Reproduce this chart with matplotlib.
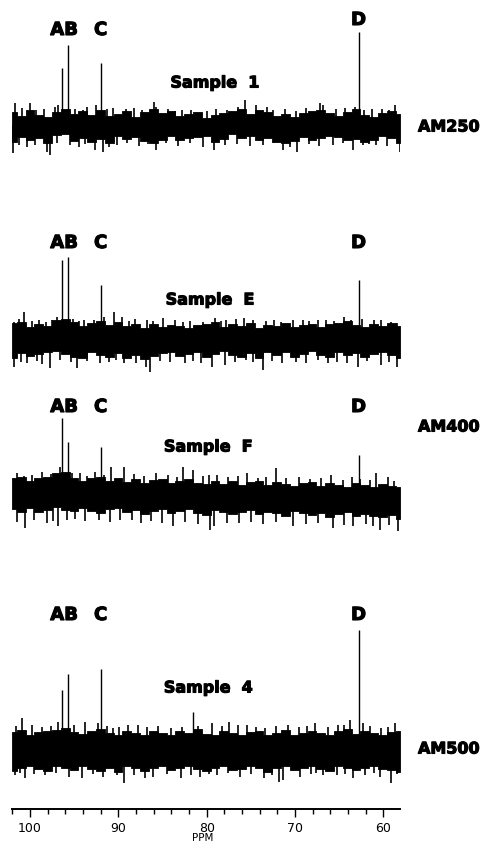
import numpy as np
import matplotlib
matplotlib.use("Agg")
import matplotlib.pyplot as plt
import matplotlib.patheffects as pe
from matplotlib.ticker import MultipleLocator

# sampling grid for the noise envelope (ppm)
grid = np.linspace(102.0, 58.1, 45)

# ---- Sample 1 (AM250) ----
s1_up = [13, 9, 15, 10, 8, 13, 16, 11, 14, 10, 15, 9, 11, 14, 8, 13, 16, 12, 14, 9, 11, 13, 7,
         10, 12, 14, 16, 11, 15, 13, 9, 11, 8, 12, 14, 15, 12, 9, 13, 16, 10, 8, 12, 14, 11]
s1_dn = [17, 12, 15, 13, 18, 10, 9, 16, 13, 17, 14, 18, 11, 14, 12, 16, 18, 15, 11, 15, 13, 12, 11,
         17, 14, 9, 13, 11, 15, 13, 17, 18, 16, 12, 15, 13, 11, 12, 15, 14, 17, 15, 11, 13, 18]
s1_sp_up_ppm = [101.7, 100.0, 96.8, 93.5, 92.5, 90.6, 89.1, 86.0, 85.7, 82.8, 80.0, 76.4, 75.7,
                74.4, 73.2, 67.2, 66.8, 63.2, 61.3, 58.7,
                100.9, 99.3, 98.4, 97.2, 94.9, 94.0, 91.3, 88.2, 87.3, 84.4, 83.6, 81.8, 78.9,
                77.7, 72.5, 71.1, 69.9, 68.7, 65.4, 64.3, 62.2, 60.1, 59.4]
s1_sp_up_h = [22, 22, 20, 18, 20, 17, 16, 23, 18, 15, 14, 18, 25, 20, 18, 22, 20, 18, 16, 20,
              17, 15, 16, 18, 16, 15, 16, 17, 15, 16, 14, 15, 16, 15, 15, 16, 14, 17, 16, 17, 15, 16, 15]
s1_sp_dn_ppm = [101.9, 98.1, 97.7, 94.5, 92.6, 91.7, 91.1, 85.7, 80.4, 79.2, 73.6, 71.3, 69.8,
                65.7, 63.4, 60.8, 58.1,
                101.2, 100.3, 99.4, 96.9, 95.5, 93.8, 90.2, 89.0, 87.7, 86.6, 84.6, 83.2, 81.9,
                77.9, 76.6, 75.1, 72.4, 70.6, 68.4, 67.3, 64.6, 62.3, 61.6, 59.6]
s1_sp_dn_h = [28, 27, 30, 22, 25, 27, 22, 25, 22, 25, 20, 25, 27, 20, 25, 20, 27,
              20, 22, 20, 18, 20, 19, 20, 18, 21, 19, 18, 21, 18, 20, 19, 21, 18, 22, 19, 21, 18, 20, 19, 21]
s1_peak_ppm = [96.4, 95.7, 92.0, 62.8]
s1_peak_h = [57, 80, 62, 93]

# ---- Sample E (AM400) ----
se_up = [15, 16, 11, 14, 12, 18, 19, 16, 12, 15, 17, 13, 16, 12, 14, 10, 14, 11, 13, 12, 10, 13, 14,
         16, 11, 14, 12, 15, 10, 13, 12, 15, 11, 13, 14, 11, 14, 15, 17, 13, 11, 14, 12, 15, 12]
se_dn = [20, 15, 18, 16, 14, 13, 16, 19, 20, 14, 17, 19, 15, 20, 17, 21, 18, 15, 14, 18, 16, 14, 19,
         16, 13, 17, 19, 15, 20, 14, 17, 14, 19, 16, 13, 17, 19, 14, 17, 15, 19, 16, 14, 17, 20]
se_sp_up_ppm = [101.8, 100.7, 97.5, 93.9, 91.6, 90.5, 89.6, 86.8, 84.9, 80.4, 79.1, 77.8, 75.8,
                74.7, 70.2, 67.4, 64.4, 63.7, 61.1, 59.1, 58.4,
                101.2, 99.8, 99.0, 98.2, 96.9, 95.1, 94.4, 92.8, 88.8, 88.1, 86.1, 83.6, 82.7,
                81.9, 78.4, 76.7, 73.3, 72.4, 71.6, 69.1, 68.4, 66.5, 65.6, 62.4, 60.3]
se_sp_up_h = [16, 26, 18, 18, 21, 26, 21, 18, 20, 16, 20, 18, 20, 18, 18, 18, 21, 18, 18, 16, 15,
              19, 17, 18, 16, 21, 19, 17, 18, 17, 19, 17, 18, 16, 17, 17, 19, 17, 18, 16, 18, 17, 18, 17, 19, 18]
se_sp_dn_ppm = [101.8, 97.7, 94.7, 92.1, 88.0, 86.9, 86.4, 82.4, 79.4, 77.9, 73.6, 71.5, 66.3,
                62.9, 60.3, 58.5,
                101.0, 100.3, 99.2, 98.6, 96.6, 95.4, 93.6, 91.1, 90.3, 89.4, 85.3, 84.1, 81.5,
                80.6, 76.8, 75.6, 74.7, 72.6, 69.9, 68.7, 67.4, 65.2, 64.1, 61.8, 59.4]
se_sp_dn_h = [29, 30, 30, 25, 25, 29, 34, 25, 29, 27, 32, 25, 25, 29, 27, 29,
              24, 25, 23, 26, 22, 24, 23, 24, 22, 25, 23, 24, 23, 25, 24, 22, 24, 23, 24, 25, 22, 24, 25, 23, 24]
se_peak_ppm = [96.4, 95.7, 92.0, 62.8]
se_peak_h = [78, 81, 53, 58]

# ---- Sample F (AM400) ----
sf_up = [18, 19, 15, 18, 19, 23, 24, 18, 15, 18, 19, 15, 18, 14, 17, 13, 16, 17, 13, 15, 17, 13, 12,
         15, 12, 15, 11, 14, 15, 11, 14, 12, 10, 13, 14, 10, 13, 11, 9, 13, 11, 9, 12, 10, 9]
sf_dn = [13, 16, 12, 16, 14, 11, 14, 15, 12, 15, 17, 13, 12, 16, 14, 18, 15, 13, 17, 15, 13, 17, 19,
         14, 16, 18, 16, 14, 18, 16, 17, 20, 15, 17, 19, 17, 21, 18, 16, 20, 18, 20, 21, 19, 23]
sf_sp_up_ppm = [101.5, 98.6, 96.6, 94.3, 92.6, 90.8, 89.3, 85.7, 82.7, 81.6, 78.8, 75.4, 72.2,
                65.9, 63.6, 60.8, 59.5,
                100.7, 99.8, 97.6, 95.2, 93.5, 91.6, 88.2, 87.1, 84.4, 83.3, 80.4, 79.7, 77.6,
                76.4, 74.2, 73.3, 71.0, 69.6, 68.3, 67.1, 64.6, 62.6, 61.5, 58.8]
sf_sp_up_h = [23, 24, 29, 23, 24, 29, 29, 23, 29, 26, 21, 23, 28, 21, 19, 23, 19,
              20, 21, 22, 23, 20, 21, 22, 20, 21, 19, 20, 21, 19, 20, 18, 19, 18, 19, 17, 18, 16, 17, 16, 15]
sf_sp_dn_ppm = [100.6, 98.1, 96.8, 95.8, 88.5, 83.8, 79.6, 79.2, 77.7, 70.2, 65.7, 63.4, 60.4, 58.3,
                101.5, 99.5, 97.4, 94.9, 93.8, 92.2, 90.9, 89.8, 87.4, 86.3, 85.1, 82.4, 81.0,
                76.3, 75.0, 73.6, 72.1, 68.8, 67.4, 64.4, 62.0, 61.2, 59.4]
sf_sp_dn_h = [32, 27, 30, 24, 24, 30, 34, 30, 27, 30, 32, 30, 34, 35,
              26, 24, 25, 23, 25, 24, 26, 24, 27, 25, 27, 26, 28, 27, 26, 28, 26, 28, 27, 29, 28, 30, 29]
sf_peak_ppm = [96.4, 95.7, 92.0, 62.8]
sf_peak_h = [78, 54, 49, 41]

# ---- Sample 4 (AM500) ----
s4_up = [18, 20, 15, 18, 19, 20, 22, 18, 16, 19, 21, 17, 15, 19, 17, 15, 19, 17, 15, 19, 17, 21, 16,
         15, 19, 17, 15, 18, 19, 15, 17, 20, 15, 17, 19, 17, 15, 19, 21, 16, 19, 17, 15, 18, 19]
s4_dn = [21, 18, 16, 19, 21, 16, 18, 20, 16, 19, 21, 18, 22, 16, 18, 21, 18, 16, 20, 18, 16, 19, 21,
         18, 16, 20, 19, 16, 18, 22, 18, 16, 20, 18, 16, 19, 21, 16, 18, 20, 18, 16, 19, 20, 22]
s4_sp_up_ppm = [100.9, 98.6, 96.8, 93.8, 92.3, 90.6, 88.9, 86.7, 84.0, 79.4, 77.5, 75.4, 73.4,
                69.6, 67.7, 65.1, 63.8, 62.3, 60.3, 58.7,
                101.6, 99.8, 97.6, 95.0, 91.3, 89.9, 87.8, 85.5, 82.8, 81.0, 78.3, 76.5, 74.4,
                72.2, 70.8, 68.6, 66.3, 64.4, 61.5, 59.5]
s4_sp_up_h = [32, 23, 28, 28, 27, 22, 25, 23, 22, 27, 28, 25, 22, 23, 27, 25, 30, 27, 22, 27,
              24, 25, 24, 25, 24, 23, 25, 24, 23, 24, 24, 25, 23, 24, 25, 24, 23, 25, 24, 23]
s4_sp_dn_ppm = [101.7, 100.6, 95.6, 94.1, 91.7, 90.2, 89.3, 87.0, 86.1, 82.9, 80.7, 78.8, 76.2,
                73.5, 71.8, 71.3, 69.4, 66.8, 63.4, 60.4, 59.1,
                101.1, 99.6, 98.3, 97.0, 92.9, 88.2, 84.5, 81.8, 79.7, 77.6, 75.0, 72.6, 68.2,
                67.6, 65.2, 64.3, 62.1, 61.1, 58.5]
s4_sp_dn_h = [25, 28, 27, 28, 27, 25, 33, 28, 27, 28, 27, 25, 27, 28, 32, 30, 27, 25, 28, 27, 33,
              23, 24, 25, 23, 24, 25, 24, 25, 24, 23, 24, 25, 24, 23, 25, 24, 25, 23, 24]
s4_peak_ppm = [96.4, 95.7, 92.0, 62.8, 81.5]
s4_peak_h = [60, 76, 81, 120, 38]

peak_labels = ["AB", "C", "D"]
label_ppm = [96.15, 92.0, 62.8]
sample_names = ["Sample  1", "Sample  E", "Sample  F", "Sample  4"]
instruments = ["AM250", "AM400", "AM500"]

W, H = 492, 843
AX_BOTTOM_PX = 809   # pixel row of the ppm axis line


def py(px):
    # pixel row -> data y (1 unit = 1 pixel)
    return AX_BOTTOM_PX - px


fig = plt.figure(figsize=(W / 100, H / 100), dpi=100)
ax = fig.add_axes([11.7 / W, (H - AX_BOTTOM_PX) / H, (400 - 11.7) / W, AX_BOTTOM_PX / H])
ax.set_xlim(102.07, 58.11)
ax.set_ylim(0, AX_BOTTOM_PX)

traces = [
    (125, s1_up, s1_dn, s1_sp_up_ppm, s1_sp_up_h, s1_sp_dn_ppm, s1_sp_dn_h, s1_peak_ppm, s1_peak_h),
    (338, se_up, se_dn, se_sp_up_ppm, se_sp_up_h, se_sp_dn_ppm, se_sp_dn_h, se_peak_ppm, se_peak_h),
    (496, sf_up, sf_dn, sf_sp_up_ppm, sf_sp_up_h, sf_sp_dn_ppm, sf_sp_dn_h, sf_peak_ppm, sf_peak_h),
    (750, s4_up, s4_dn, s4_sp_up_ppm, s4_sp_up_h, s4_sp_dn_ppm, s4_sp_dn_h, s4_peak_ppm, s4_peak_h),
]

for base_px, up, dn, su_x, su_h, sd_x, sd_h, pk_x, pk_h in traces:
    b = py(base_px)
    up = np.array(up)
    dn = np.array(dn)
    ax.fill_between(grid, b - dn, b + up, step="mid", color="black", lw=0.6, edgecolor="black")
    ax.vlines(su_x, b, b + np.array(su_h), color="black", lw=1.2)
    ax.vlines(sd_x, b - np.array(sd_h), b, color="black", lw=1.2)
    ax.vlines(pk_x, b, b + np.array(pk_h), color="black", lw=1.0)

bold = dict(family="DejaVu Sans", fontweight="bold", color="black",
            path_effects=[pe.withStroke(linewidth=0.8, foreground="black")])

# peak letters: (row of AB/C, row of D)
letter_rows = [(30, 20), (243, 243), (407, 407), (615, 615)]
for (r_abc, r_d) in letter_rows:
    rows = [r_abc, r_abc, r_d]
    for lab, xp, r in zip(peak_labels, label_ppm, rows):
        ax.text(xp, py(r), lab, ha="center", va="center", fontsize=13, **bold)

sample_pos = [(79.05, 83), (79.6, 300), (79.8, 447), (79.8, 688)]
for name, (xp, r) in zip(sample_names, sample_pos):
    ax.text(xp, py(r), name, ha="center", va="center", fontsize=11.5, **bold)

for name, r in zip(instruments, [127, 427, 749]):
    fig.text(418 / W, 1 - r / H, name, ha="left", va="center", fontsize=11.5, **bold)

for s in ["top", "left", "right"]:
    ax.spines[s].set_visible(False)
ax.spines["bottom"].set_linewidth(1.4)
ax.set_yticks([])
ax.xaxis.set_major_locator(MultipleLocator(10))
ax.xaxis.set_minor_locator(MultipleLocator(2))
ax.tick_params(axis="x", which="major", length=6, width=1.0, pad=3, labelsize=9)
ax.tick_params(axis="x", which="minor", length=3.5, width=1.0)

fig.text(203 / W, 1 - 833 / H, "PPM", ha="center", va="top", fontsize=7.5)

fig.savefig("out.png", dpi=100)
